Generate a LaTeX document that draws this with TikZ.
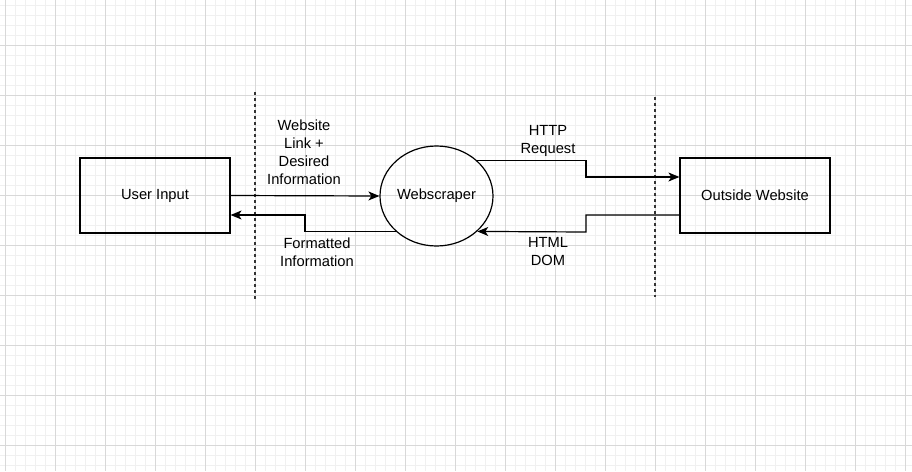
\documentclass[tikz,border=0pt]{standalone}
\usepackage{fontspec}
\setmainfont{Liberation Sans}
\usetikzlibrary{shapes.geometric,arrows.meta}
\definecolor{minorg}{HTML}{F0F0F0}
\definecolor{majorg}{HTML}{D8D8D8}
\definecolor{dashc}{HTML}{333333}
\begin{document}
\begin{tikzpicture}[x=1pt,y=-1pt,
  lbl/.style={font=\fontsize{14.7}{18}\selectfont, align=center, inner sep=0pt},
  boxn/.style={draw, line width=1.2pt, minimum width=150pt, minimum height=75pt, inner sep=0pt, font=\fontsize{14.7}{18}\selectfont},
  ellnode/.style={draw, ellipse, line width=1.2pt, minimum width=113pt, minimum height=100pt, inner sep=0pt, font=\fontsize{14.7}{18}\selectfont},
  arr/.style={line width=1.2pt, -{Stealth[length=11pt,width=9pt,inset=3pt]}},
  sep/.style={dashc, line width=1.2pt, dash pattern=on 3pt off 3pt}]
\useasboundingbox[fill=white] (0,0) rectangle (912,471);
\foreach \x in {5,15,...,905} \draw[minorg, line width=0.8pt] (\x,0) -- (\x,471);
\foreach \y in {5,15,...,465} \draw[minorg, line width=0.8pt] (0,\y) -- (912,\y);
\foreach \x in {5,55,...,905} \draw[majorg, line width=0.8pt] (\x,0) -- (\x,471);
\foreach \y in {45,95,...,445} \draw[majorg, line width=0.8pt] (0,\y) -- (912,\y);

\node[boxn] (ui) at (155,195.5) {User Input};
\node[ellnode] (ws) at (436.5,196) {Webscraper};
\node[boxn] (ow) at (755,195.5) {Outside Website};

\coordinate (d1t) at (255,92);
\coordinate (d1b) at (255,300);
\coordinate (d2t) at (655,97);
\coordinate (d2b) at (655,297);
\draw[sep] (d1t) -- (d1b);
\draw[sep] (d2t) -- (d2b);

\draw[arr] (ui.east) -- (ws.west);
\draw[arr] (ws.221) -| (305,215) -- (ui.east |- 0,215);
\draw[arr] (ws.41) -| (586,177) -- (ow.west |- 0,177);
\draw[arr] (ow.west |- 0,215) -| (586,232) -- (ws.319);

\node[lbl] (l1) at (304,152) {Website\\Link +\\Desired\\Information};
\node[lbl] (l2) at (317,252) {Formatted\\Information};
\node[lbl] (l3) at (548,140.5) {HTTP\\Request};
\node[lbl] (l4) at (548,252) {HTML\\DOM};
\end{tikzpicture}
\end{document}
